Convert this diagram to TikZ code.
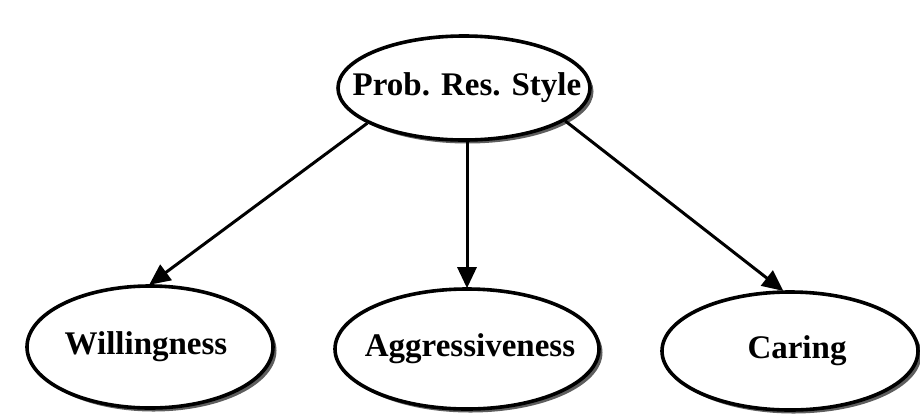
\documentclass[tikz,border=0pt]{standalone}
\usepackage{fontspec}
\setmainfont{Liberation Serif}
\usetikzlibrary{shapes.geometric,shadows,arrows.meta}
\begin{document}
\begin{tikzpicture}[x=1pt,y=-1pt,
  var/.style={ellipse, draw=black, line width=3.6pt, fill=white, inner sep=0pt,
    drop shadow={shadow xshift=3.5pt, shadow yshift=-3.5pt, fill=black!70, opacity=0.9},
    font=\bfseries\fontsize{33}{38}\selectfont},
  link/.style={line width=3pt, -{Triangle[length=21pt,width=19pt]}, shorten >=-1pt}]
\useasboundingbox (0,0) rectangle (920,416);
\node[var, minimum width=252pt, minimum height=104pt] (top) at (464,88) {\makebox[0pt]{\hspace{6pt}Prob. Res. Style}};
\node[var, minimum width=246pt, minimum height=122pt] (will) at (150,347) {\makebox[0pt]{Willingness\hspace{8pt}}};
\node[var, minimum width=264pt, minimum height=120pt] (aggr) at (467,349) {\makebox[0pt]{\hspace{6pt}Aggressiveness}};
\node[var, minimum width=256pt, minimum height=118pt] (car) at (790,351) {\makebox[0pt]{\hspace{14pt}Caring}};
\draw[link] (top.200) -- (will.north);
\draw[link] (top.south -| aggr.north) -- (aggr.north);
\draw[link] (top.342) -- (car.97);
\end{tikzpicture}
\end{document}
